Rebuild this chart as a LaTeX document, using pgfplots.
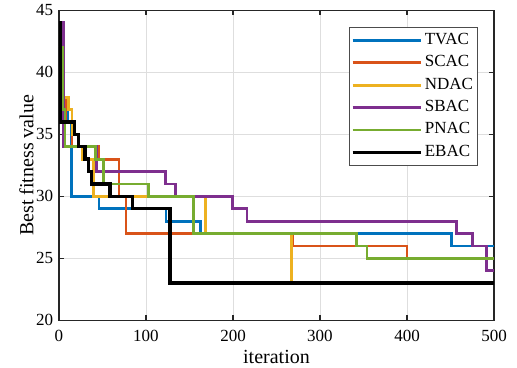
\documentclass[border=0pt]{standalone}
\usepackage{fontspec}
\setmainfont{Liberation Serif}
\usepackage{pgfplots}
\pgfplotsset{compat=1.18}
\definecolor{cTV}{rgb}{0,0.447,0.741}
\definecolor{cSC}{rgb}{0.850,0.325,0.098}
\definecolor{cND}{rgb}{0.929,0.694,0.125}
\definecolor{cSB}{rgb}{0.494,0.184,0.556}
\definecolor{cPN}{rgb}{0.466,0.674,0.188}
\begin{document}
\fontsize{17}{20}\selectfont
\begin{tikzpicture}[x=1pt,y=1pt]
\useasboundingbox (-59,-46.7) rectangle (458,320.3);
\begin{axis}[
  at={(0,0)}, anchor=south west,
  width=435pt, height=310pt, scale only axis,
  xmin=0, xmax=500, ymin=20, ymax=45,
  xtick={0,100,...,500}, ytick={20,25,...,45},
  xtick pos=both, ytick pos=both,
  tick align=inside, major tick length=5pt,
  grid=major, grid style={black!13, line width=0.7pt},
  axis line style={black!85, line width=1.1pt},
  tick style={black!85, line width=1.1pt},
  /pgf/number format/assume math mode=true,
  tick label style={font=\fontsize{17}{20}\selectfont},
  xticklabel style={anchor=base, yshift=-21pt},
  xlabel={iteration}, ylabel={Best fitness value},
  label style={font=\fontsize{20}{22}\selectfont},
  xlabel style={at={(axis description cs:0.5,-0.138)}, anchor=base},
  ylabel style={at={(axis description cs:-0.0591,0.5)}, anchor=base, rotate=0},
  legend cell align=left,
  legend image code/.code={\draw[#1] (0pt,0pt) -- (68pt,0pt);},
  legend style={at={(rel axis cs:0.963,0.947)}, anchor=north east,
    draw=black!70, line width=0.8pt, fill=white, inner sep=2pt,
    font=\fontsize{17}{20}\selectfont,
    nodes={inner xsep=2.5pt, inner ysep=3.2pt, text height=12pt, text depth=4pt}},
]
\addplot[const plot, cTV, line width=2.8pt] coordinates {(0,42)(4,37)(10,36)(14,30)(46,29)(123,28)(163,27)(451,26)(500,26)};
\addlegendentry{TVAC}
\addplot[const plot, cSC, line width=2.8pt] coordinates {(0,42)(5,38)(8,36)(15,34)(45,33)(69,30)(77,27)(268,26)(400,25)(500,25)};
\addlegendentry{SCAC}
\addplot[const plot, cND, line width=2.8pt] coordinates {(0,43)(5,38)(11,37)(15,35)(22,34)(27,33)(40,30)(168,27)(267,23)(500,23)};
\addlegendentry{NDAC}
\addplot[const plot, cSB, line width=2.8pt] coordinates {(0,44)(5,34)(43,32)(122,31)(134,30)(199,29)(216,28)(457,27)(475,26)(491,24)(500,24)};
\addlegendentry{SBAC}
\addplot[const plot, cPN, line width=2.8pt] coordinates {(0,42)(4,37)(7,34)(42,33)(51,31)(103,30)(155,27)(342,26)(354,25)(500,25)};
\addlegendentry{PNAC}
\addplot[const plot, black, line width=3.4pt] coordinates {(0,44)(1.5,36)(17.6,35)(22.2,34)(29.9,33)(33.7,32)(37.5,31)(58.6,30)(84.3,29)(127.6,23)(500,23)};
\addlegendentry{EBAC}
\end{axis}
\end{tikzpicture}
\end{document}
